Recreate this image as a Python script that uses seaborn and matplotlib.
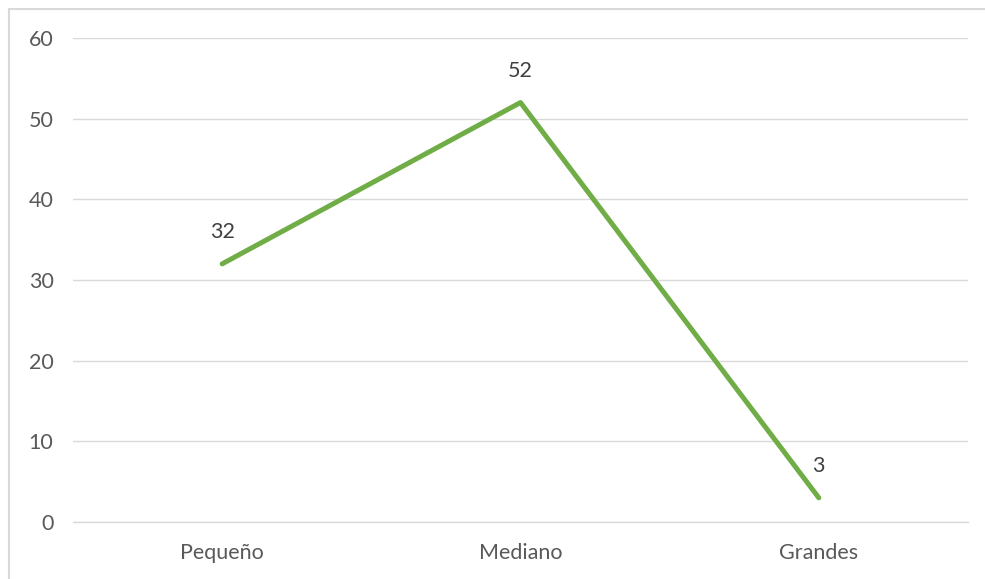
import numpy as np
import pandas as pd
import seaborn as sns
import matplotlib.pyplot as plt
from matplotlib.patches import Rectangle

categorias = ["Pequeño", "Mediano", "Grandes"]
valores = [32, 52, 3]

df = pd.DataFrame({"tamano": categorias, "valor": valores})

sns.set_theme(style="white")
plt.rcParams['font.family'] = ['Lato', 'DejaVu Sans']

fig = plt.figure(figsize=(9.85, 5.79), dpi=100)
ax = fig.add_axes([0.0741, 0.0984, 0.9086, 0.836])

sns.lineplot(data=df, x="tamano", y="valor", ax=ax, color="#70AD47",
             linewidth=3.6, sort=False, solid_capstyle="round")

# etiquetas de datos encima de cada punto
for i, v in enumerate(valores):
    ax.annotate(str(v), (i, v), xytext=(0, 23), textcoords="offset points",
                ha="center", va="center", fontsize=15.5, color="#404040")

ax.set_xlim(-0.5, 2.5)
ax.set_ylim(0, 60)
ax.set_yticks(range(0, 61, 10))
ax.yaxis.grid(True, color="#D9D9D9", linewidth=1)
ax.set_axisbelow(True)
for s in ["top", "right", "left"]:
    ax.spines[s].set_visible(False)
ax.spines["bottom"].set_color("#D9D9D9")
ax.spines["bottom"].set_linewidth(1)

ax.set_xticks(range(len(categorias)))
ax.set_xticklabels(categorias)
ax.set_xticks([-0.5, 0.5, 1.5, 2.5], minor=True)
ax.tick_params(axis="x", which="major", length=0, pad=15, labelsize=15.5, labelcolor="#595959")
ax.tick_params(axis="x", which="minor", length=6, color="#D9D9D9", width=1, direction="out")
ax.tick_params(axis="y", length=0, pad=14, labelsize=15.5, labelcolor="#595959")
ax.set_xlabel("")
ax.set_ylabel("")

fig.patches.append(Rectangle((9 / 985, -0.1), 1.2, 1 - 9 / 579 + 0.1, transform=fig.transFigure,
                             fill=False, edgecolor="#D9D9D9", linewidth=1.5))

fig.savefig("out.png", dpi=100)
